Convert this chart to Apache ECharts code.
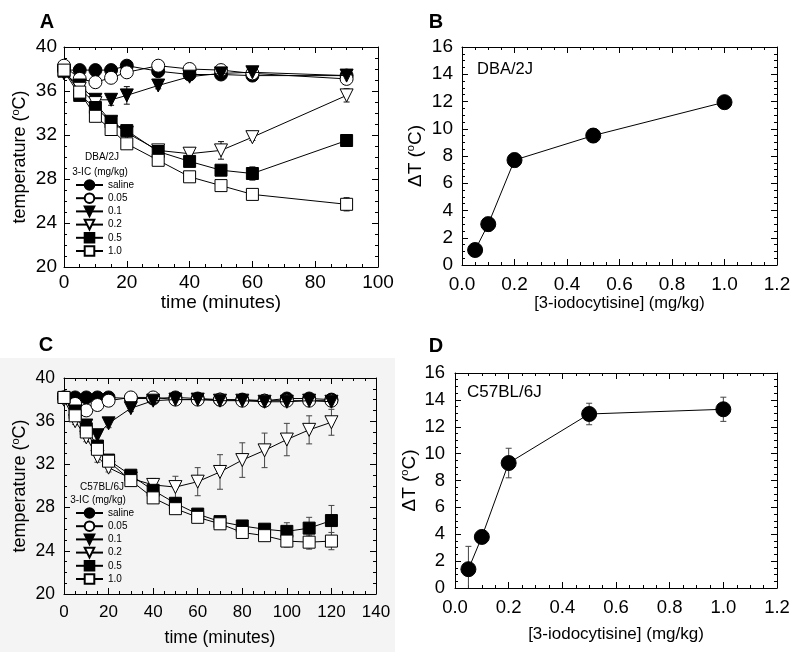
<!DOCTYPE html>
<html>
<head>
<meta charset="utf-8">
<script src="https://cdn.jsdelivr.net/npm/echarts@6/dist/echarts.min.js"></script>
<style>html,body{margin:0;padding:0;background:#fff;}#c{width:800px;height:659px;}</style>
</head>
<body>
<div id="c"></div>
<script>
// ---------- DATA ----------
// Panel A (DBA/2J): time course
const timeA = [0, 5, 10, 15, 20, 30, 40, 50, 60, 90];
const salineA = [37.9, 37.9, 37.9, 37.9, 38.3, 37.8, 37.5, 37.5, 37.4, 37.4];
const d005A   = [38.3, 37.1, 36.8, 37.2, 37.7, 38.3, 38.0, 37.9, 37.6, 37.1];
const d01A    = [37.6, 36.5, 35.2, 35.2, 35.6, 36.5, 37.3, 37.6, 37.7, 37.4];
const d02A    = [37.8, 36.2, 34.9, 33.2, 32.2, 30.6, 30.3, 30.6, 31.8, 35.6];
const d05A    = [37.8, 35.6, 34.5, 33.2, 32.4, 30.5, 29.6, 28.8, 28.5, 31.5];
const d10A    = [37.9, 35.9, 33.7, 32.5, 31.2, 29.7, 28.2, 27.4, 26.6, 25.7];
const salineAErr = [0.2, 0.2, 0.2, 0.2, 0.3, 0.2, 0.2, 0.2, 0.2, 0.2];
const d005AErr   = [0.2, 0.3, 0.3, 0.3, 0.3, 0.2, 0.2, 0.2, 0.2, 0.4];
const d01AErr    = [0.2, 0.3, 0.3, 0.5, 0.8, 0.3, 0.3, 0.2, 0.2, 0.3];
const d02AErr    = [0.2, 0.3, 0.3, 0.3, 0.3, 0.3, 0.5, 0.8, 0.3, 0.6];
const d05AErr    = [0.2, 0.3, 0.3, 0.3, 0.3, 0.3, 0.3, 0.3, 0.6, 0.3];
const d10AErr    = [0.2, 0.3, 0.3, 0.3, 0.3, 0.3, 0.3, 0.3, 0.3, 0.6];

// Panel B (DBA/2J): dose response
const doseB = [0.05, 0.1, 0.2, 0.5, 1.0];
const deltaB = [1.1, 3.0, 7.7, 9.5, 11.95];
const deltaBErr = [0.2, 0.5, 0.5, 0.5, 0.4];

// Panel C (C57BL/6J): time course
const timeC = [0, 5, 10, 15, 20, 30, 40, 50, 60, 70, 80, 90, 100, 110, 120];
const salineC = [38.2, 38.2, 38.2, 38.2, 38.2, 38.1, 38.1, 38.2, 38.1, 38.0, 38.0, 37.9, 38.1, 38.1, 38.0];
const d005C   = [38.2, 37.6, 37.0, 37.5, 37.9, 38.2, 38.2, 38.0, 38.0, 38.0, 37.9, 37.9, 37.9, 37.9, 37.9];
const d01C    = [38.0, 36.9, 35.6, 34.7, 35.8, 37.2, 37.9, 38.0, 38.0, 37.9, 37.9, 37.8, 37.8, 37.9, 37.8];
const d02C    = [38.0, 36.0, 34.5, 32.7, 31.7, 30.7, 30.1, 29.9, 30.4, 31.3, 32.4, 33.3, 34.3, 35.2, 35.9];
const d05C    = [38.2, 36.8, 35.3, 33.7, 32.4, 31.0, 29.6, 28.4, 27.4, 26.7, 26.3, 26.0, 25.8, 26.1, 26.8];
const d10C    = [38.2, 36.5, 35.0, 33.4, 32.3, 30.5, 28.9, 27.9, 27.1, 26.5, 25.7, 25.4, 24.9, 24.8, 24.9];
const salineCErr = [0.2, 0.2, 0.2, 0.2, 0.2, 0.2, 0.2, 0.2, 0.2, 0.2, 0.2, 0.2, 0.2, 0.2, 0.2];
const d005CErr   = [0.2, 0.3, 0.5, 0.3, 0.2, 0.2, 0.2, 0.2, 0.2, 0.2, 0.2, 0.2, 0.2, 0.2, 0.2];
const d01CErr    = [0.2, 0.3, 0.4, 0.5, 0.4, 0.3, 0.2, 0.2, 0.2, 0.2, 0.2, 0.2, 0.2, 0.2, 0.2];
const d02CErr    = [0.2, 0.3, 0.4, 0.5, 0.4, 0.4, 0.6, 1.0, 1.3, 1.6, 1.6, 1.6, 1.5, 1.3, 1.2];
const d05CErr    = [0.2, 0.3, 0.3, 0.3, 0.3, 0.3, 0.3, 0.3, 0.3, 0.3, 0.3, 0.45, 0.8, 1.0, 1.4];
const d10CErr    = [0.2, 0.3, 0.3, 0.3, 0.3, 0.3, 0.3, 0.3, 0.3, 0.3, 0.3, 0.3, 0.55, 0.65, 0.8];

// Panel D (C57BL/6J): dose response
const doseD = [0.05, 0.1, 0.2, 0.5, 1.0];
const deltaD = [1.4, 3.8, 9.3, 12.95, 13.3];
const deltaDErr = [1.7, 0.2, 1.1, 0.8, 0.9];

// Labels
const doseNames = ['saline', '0.05', '0.1', '0.2', '0.5', '1.0'];

// ---------- STYLE ----------
const FONT = 'Liberation Sans, Arial, Helvetica, sans-serif';
const TRI = 'path://M0,0 L10,0 L5,8.66 Z';
const symbolsList = ['circle', 'circle', TRI, TRI, 'rect', 'rect'];
const fillList = ['#000', '#fff', '#000', '#fff', '#000', '#fff'];
const sizeList = [13, 13, 13, 13, 12, 12];

const pairs = (xs, ys) => xs.map((x, i) => [x, ys[i]]);
const triples = (xs, ys, es) => xs.map((x, i) => [x, ys[i], es[i]]);

function errSeries(xi, yi, rows, color) {
  return {
    type: 'custom', xAxisIndex: xi, yAxisIndex: yi, z: 1, clip: true, silent: true,
    data: rows,
    renderItem: function (params, api) {
      const x = api.value(0), y = api.value(1), e = api.value(2);
      const t = api.coord([x, y + e]);
      const b = api.coord([x, y - e]);
      const w = 3;
      const st = { stroke: color, lineWidth: 1 };
      return {
        type: 'group', children: [
          { type: 'line', shape: { x1: t[0], y1: t[1], x2: b[0], y2: b[1] }, style: st },
          { type: 'line', shape: { x1: t[0] - w, y1: t[1], x2: t[0] + w, y2: t[1] }, style: st },
          { type: 'line', shape: { x1: b[0] - w, y1: b[1], x2: b[0] + w, y2: b[1] }, style: st }
        ]
      };
    }
  };
}

function lineSeries(name, xi, yi, data, k, size) {
  return {
    type: 'line', name: name, xAxisIndex: xi, yAxisIndex: yi, z: 2 + k * 0.01,
    data: data, symbol: symbolsList[k], symbolSize: size || sizeList[k],
    lineStyle: { color: '#000', width: 1 },
    itemStyle: { color: fillList[k], borderColor: '#000', borderWidth: 1 },
    emphasis: { disabled: true }
  };
}

function xAxisPair(grid, min, max, interval, fmt, labelSize, name, nameSize, nameGap, labelMargin) {
  const base = {
    type: 'value', gridIndex: grid, min: min, max: max, interval: interval,
    axisLine: { show: true, onZero: false, lineStyle: { color: '#000', width: 1 } },
    axisTick: { show: true, inside: true, length: 6, lineStyle: { color: '#000' } },
    minorTick: { show: true, splitNumber: 4, length: 3, lineStyle: { color: '#000' } },
    splitLine: { show: false }, minorSplitLine: { show: false }
  };
  return [
    Object.assign({}, base, {
      position: 'bottom',
      axisLabel: { fontSize: labelSize, color: '#000', fontFamily: FONT, margin: labelMargin, formatter: fmt },
      name: name, nameLocation: 'middle', nameGap: nameGap,
      nameTextStyle: { fontSize: nameSize, color: '#000', fontFamily: FONT }
    }),
    Object.assign({}, base, { position: 'top', axisLabel: { show: false } })
  ];
}

function yAxisPair(grid, min, max, interval, labelSize, name, nameSize, nameGap, labelMargin) {
  const base = {
    type: 'value', gridIndex: grid, min: min, max: max, interval: interval,
    axisLine: { show: true, onZero: false, lineStyle: { color: '#000', width: 1 } },
    axisTick: { show: true, inside: true, length: 6, lineStyle: { color: '#000' } },
    minorTick: { show: true, splitNumber: 4, length: 3, lineStyle: { color: '#000' } },
    splitLine: { show: false }, minorSplitLine: { show: false }
  };
  return [
    Object.assign({}, base, {
      position: 'left',
      axisLabel: { fontSize: labelSize, color: '#000', fontFamily: FONT, margin: labelMargin },
      name: name, nameLocation: 'middle', nameGap: nameGap,
      nameTextStyle: {
        fontSize: nameSize, color: '#000', fontFamily: FONT, lineHeight: nameSize + 2,
        rich: { sup: { fontSize: Math.round(nameSize * 0.6), fontFamily: FONT, color: '#000', verticalAlign: 'top', lineHeight: nameSize + 2, padding: [0, 0, 8, 0] } }
      }
    }),
    Object.assign({}, base, { position: 'right', axisLabel: { show: false } })
  ];
}

const fmt1 = v => v.toFixed(1);
const fmt0 = v => String(v);

const xAxes = [].concat(
  xAxisPair(0, 0, 100, 20, fmt0, 19, 'time (minutes)', 19, 23, 6),
  xAxisPair(1, 0, 1.2, 0.2, fmt1, 19, '[3-iodocytisine] (mg/kg)', 16.5, 28, 10),
  xAxisPair(2, 0, 140, 20, fmt0, 17, 'time (minutes)', 17.5, 35, 10),
  xAxisPair(3, 0, 1.2, 0.2, fmt1, 18.5, '[3-iodocytisine] (mg/kg)', 17, 38, 10)
);
const yAxes = [].concat(
  yAxisPair(0, 20, 40, 4, 19, 'temperature ({sup|o}C)', 18, 34, 7),
  yAxisPair(1, 0, 16, 2, 19, '\u0394T ({sup|o}C)', 19, 36, 9),
  yAxisPair(2, 20, 40, 4, 17.5, 'temperature ({sup|o}C)', 18, 34, 9),
  yAxisPair(3, 0, 16, 2, 18.5, '\u0394T ({sup|o}C)', 19, 33, 10)
);

const seriesA = [salineA, d005A, d01A, d02A, d05A, d10A];
const errsA = [salineAErr, d005AErr, d01AErr, d02AErr, d05AErr, d10AErr];
const seriesC = [salineC, d005C, d01C, d02C, d05C, d10C];
const errsC = [salineCErr, d005CErr, d01CErr, d02CErr, d05CErr, d10CErr];

let errRowsA = [], errRowsC = [];
seriesA.forEach((s, k) => { errRowsA = errRowsA.concat(triples(timeA, s, errsA[k])); });
seriesC.forEach((s, k) => { errRowsC = errRowsC.concat(triples(timeC, s, errsC[k])); });

const series = [];
series.push(errSeries(0, 0, errRowsA, '#111'));
seriesA.forEach((s, k) => series.push(lineSeries(doseNames[k], 0, 0, pairs(timeA, s), k)));
series.push(errSeries(2, 2, triples(doseB, deltaB, deltaBErr), '#111'));
series.push(lineSeries('DBA/2J dose', 2, 2, pairs(doseB, deltaB), 0, 15));
series.push(errSeries(4, 4, errRowsC, '#444'));
seriesC.forEach((s, k) => series.push(lineSeries(doseNames[k], 4, 4, pairs(timeC, s), k)));
series.push(errSeries(6, 6, triples(doseD, deltaD, deltaDErr), '#444'));
series.push(lineSeries('C57BL/6J dose', 6, 6, pairs(doseD, deltaD), 0, 15));

function legendAt(top) {
  return {
    show: true, orient: 'vertical', left: 75, top: top, itemWidth: 27, itemHeight: 12, itemGap: 1.2,
    padding: 0, selectedMode: false, data: doseNames,
    textStyle: { fontSize: 10, color: '#000', fontFamily: FONT, lineHeight: 12 }
  };
}

function txt(x, y, s, size, weight, align) {
  return {
    type: 'text', x: x, y: y, z: 50,
    style: { text: s, fontSize: size, fontWeight: weight || 'normal', fontFamily: FONT, fill: '#000',
      textAlign: align || 'center', textVerticalAlign: 'middle' }
  };
}

const option = {
  animation: false,
  backgroundColor: '#fff',
  grid: [
    { left: 64, top: 47, width: 314, height: 220 },
    { left: 462, top: 47, width: 315, height: 218 },
    { left: 64, top: 378, width: 312, height: 216 },
    { left: 455, top: 373, width: 322, height: 215 }
  ],
  xAxis: xAxes,
  yAxis: yAxes,
  legend: [legendAt(179), legendAt(507)],
  graphic: [
    { type: 'rect', shape: { x: 0, y: 358, width: 395, height: 294 }, style: { fill: '#f4f4f4' }, z: -100, silent: true },
    txt(47, 22, 'A', 20, 'bold'),
    txt(436, 22, 'B', 20, 'bold'),
    txt(46, 345, 'C', 20, 'bold'),
    txt(436, 346, 'D', 20, 'bold'),
    txt(477, 69, 'DBA/2J', 16.5, 'normal', 'left'),
    txt(467, 392, 'C57BL/6J', 17, 'normal', 'left'),
    txt(102, 157, 'DBA/2J', 10),
    txt(100, 172, '3-IC (mg/kg)', 10),
    txt(102, 487, 'C57BL/6J', 10),
    txt(98, 500, '3-IC (mg/kg)', 10)
  ],
  series: series
};

const chart = echarts.init(document.getElementById('c'), null, { renderer: 'canvas' });
chart.setOption(option);
</script>
</body>
</html>
